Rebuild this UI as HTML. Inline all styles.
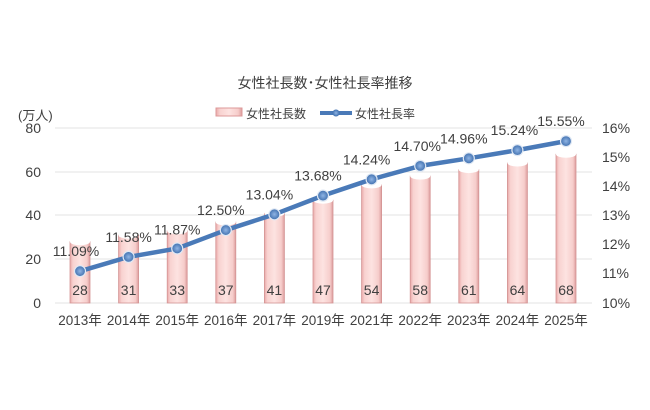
<!DOCTYPE html>
<html><head><meta charset="utf-8"><style>body{margin:0;background:#fff}svg{display:block}text{font-family:"Liberation Sans","Noto Sans CJK JP",sans-serif;fill:#404040}</style></head><body>
<svg width="650" height="410" viewBox="0 0 650 410">
<defs>
<linearGradient id="bg" x1="0" x2="1"><stop offset="0" stop-color="#e9a9a9"/><stop offset="0.15" stop-color="#f8d2d0"/><stop offset="0.5" stop-color="#fde3e1"/><stop offset="0.85" stop-color="#f6cdcb"/><stop offset="1" stop-color="#dc9c9c"/></linearGradient>
<radialGradient id="mk"><stop offset="0" stop-color="#8fb4e4"/><stop offset="1" stop-color="#3f6fae"/></radialGradient>
</defs>
<text x="325" y="88" font-size="14" text-anchor="middle">女性社長数･女性社長率推移</text>
<rect x="216" y="108" width="26" height="8" fill="url(#bg)" stroke="#d99" stroke-width="1"/>
<text x="246" y="118" font-size="12">女性社長数</text>
<line x1="320" y1="113" x2="352" y2="113" stroke="#4a7ab8" stroke-width="4"/>
<circle cx="336" cy="113" r="3.5" fill="url(#mk)"/>
<text x="355" y="118" font-size="12">女性社長率</text>
<text x="18" y="120" font-size="13">(万人)</text>
<g stroke="#e3e3e3" stroke-width="1">
<line x1="55" y1="128" x2="592" y2="128"/><line x1="55" y1="172" x2="592" y2="172"/><line x1="55" y1="215" x2="592" y2="215"/><line x1="55" y1="259" x2="592" y2="259"/><line x1="55" y1="303" x2="592" y2="303"/>
</g>
<g font-size="14" text-anchor="end">
<text x="41" y="133">80</text><text x="41" y="177">60</text><text x="41" y="220">40</text><text x="41" y="264">20</text><text x="41" y="308">0</text>
</g>
<g font-size="14" text-anchor="start">
<text x="602" y="133">16%</text><text x="602" y="162">15%</text><text x="602" y="191">14%</text><text x="602" y="220">13%</text><text x="602" y="249">12%</text><text x="602" y="278">11%</text><text x="602" y="308">10%</text>
</g>
<g id="bars"></g>
<g id="line"></g>
<g id="lbl"></g>
</svg>
<script>
(function(){
var vals=[28,31,33,37,41,47,54,58,61,64,68],rates=[11.09,11.58,11.87,12.50,13.04,13.68,14.24,14.70,14.96,15.24,15.55],yrs=[2013,2014,2015,2016,2017,2019,2021,2022,2023,2024,2025];
var ns="http://www.w3.org/2000/svg",svg=document.querySelector('svg');
function el(t,a,p,tx){var e=document.createElementNS(ns,t);for(var k in a)e.setAttribute(k,a[k]);if(tx)e.textContent=tx;(p||svg).appendChild(e);return e;}
var B=document.getElementById('bars'),L=document.getElementById('line'),T=document.getElementById('lbl');
var pts=[];
for(var i=0;i<11;i++){var cx=80+i*48.6,h=vals[i]*2.1875,ty=303-h,w=20;
el('rect',{x:cx-w/2,y:ty,width:w,height:h,fill:'url(#bg)',stroke:'#d49494','stroke-width':0.8},B);
el('ellipse',{cx:cx,cy:ty,rx:w/2,ry:3.5,fill:'#fff'},B);
el('text',{x:cx,y:295,'font-size':14,'text-anchor':'middle'},T,String(vals[i]));
el('text',{x:cx,y:325,'font-size':13.5,'text-anchor':'middle'},T,yrs[i]+'年');
var ry=303-(rates[i]-10)*29.17;pts.push(cx+','+ry);
}
el('polyline',{points:pts.join(' '),fill:'none',stroke:'#4a7ab8','stroke-width':4.5,'stroke-linejoin':'round'},L);
var off=[[-4,-15],[0,-15],[0,-14],[-5,-15],[-5,-15],[-5,-15],[-5,-15],[-3,-15],[-5,-15],[-3,-15],[-5,-15]];
for(var i=0;i<11;i++){var p=pts[i].split(',');el('circle',{cx:p[0],cy:p[1],r:5.5,fill:'url(#mk)',stroke:'#dfe8f4','stroke-width':1.2},L);
el('text',{x:+p[0]+off[i][0],y:+p[1]+off[i][1],'font-size':14,'text-anchor':'middle'},T,rates[i].toFixed(2)+'%');}
})();
</script>
</body></html>
